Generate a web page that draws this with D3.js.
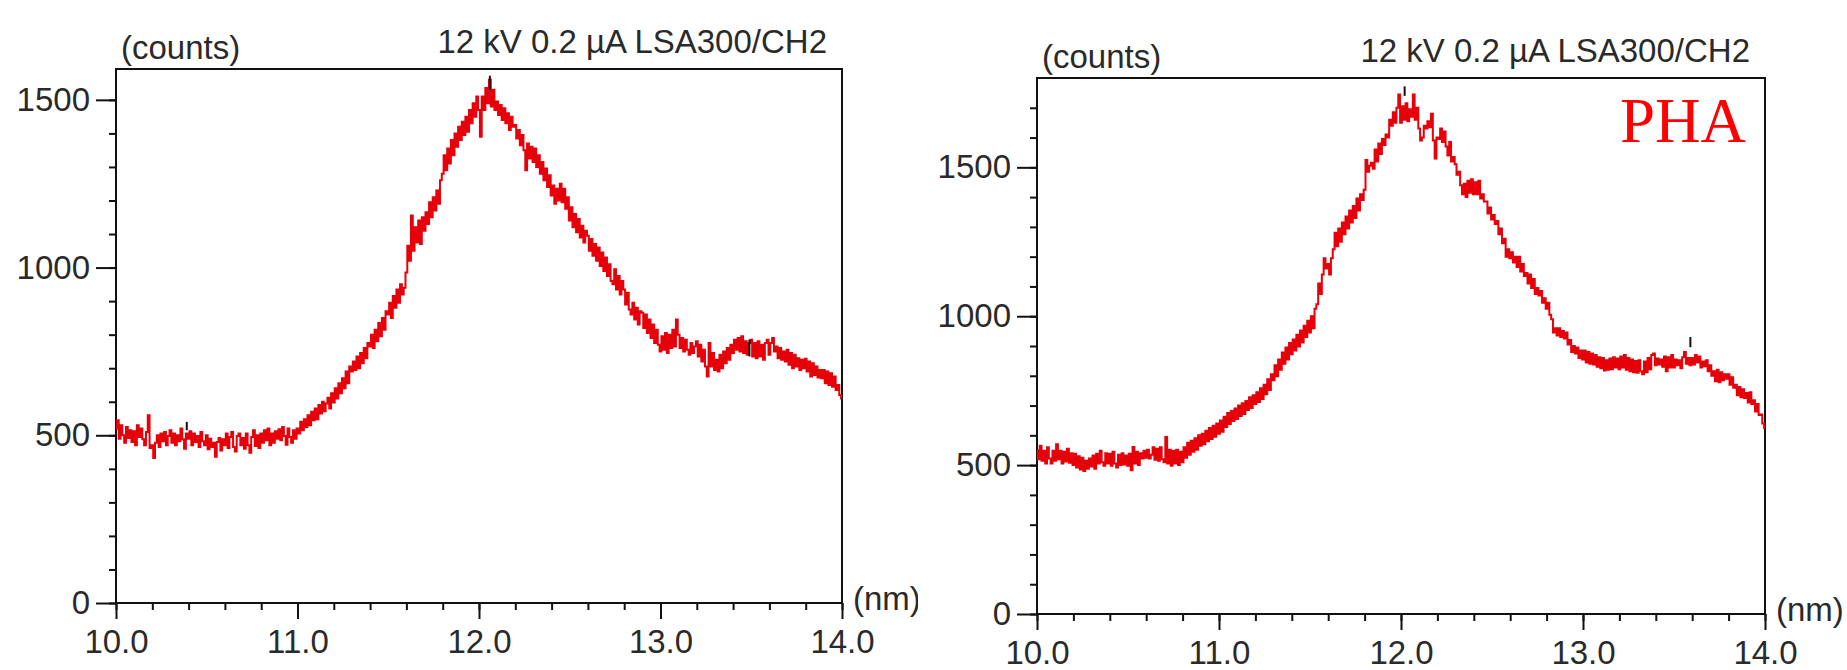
<!DOCTYPE html>
<html>
<head>
<meta charset="utf-8">
<script src="https://cdn.jsdelivr.net/npm/d3@7"></script>
<style>
  body { margin: 0; background: #fff; }
  svg { display: block; font-family: "Liberation Sans", Arial, sans-serif; }
</style>
</head>
<body>
<svg id="chart" width="1847" height="670"></svg>
<script>
// spectra are sampled from 10.00 to 14.00 nm, one value per 0.01 nm
let wlStart = 10.0, wlStep = 0.01
let xTicks = [10.0, 11.0, 12.0, 13.0, 14.0]
let yTicks = [0, 500, 1000, 1500]
let titleText = "12 kV 0.2 µA LSA300/CH2"
let yLabelText = "(counts)"
let xLabelText = "(nm)"
let tagText = "PHA"

// left spectrum (counts)
let countsLeft = [
  520, 545, 490, 530, 500, 478, 525, 492, 515, 480,
  512, 470, 530, 495, 520, 488, 470, 510, 560, 462,
  470, 432, 478, 500, 465, 505, 482, 510, 470, 498,
  515, 478, 505, 470, 500, 482, 520, 488, 460, 505,
  490, 512, 470, 505, 480, 498, 465, 510, 482, 470,
  500, 458, 490, 465, 478, 436, 480, 492, 455, 488,
  470, 505, 462, 495, 510, 465, 452, 498, 505, 470,
  492, 460, 505, 470, 448, 495, 515, 468, 500, 462,
  505, 478, 515, 485, 520, 470, 505, 478, 512, 490,
  518, 485, 525, 498, 472, 520, 495, 478, 515, 490,
  520, 505, 540, 515, 548, 525, 560, 530, 570, 545,
  580, 548, 590, 565, 600, 572, 595, 612, 580, 625,
  598, 640, 610, 655, 625, 670, 640, 690, 655, 705,
  690, 720, 695, 735, 700, 745, 715, 760, 730, 775,
  765, 800, 760, 815, 780, 835, 795, 850, 815, 870,
  860, 895, 850, 915, 880, 935, 895, 950, 920, 940,
  985, 1065, 1020, 1155, 1050, 1120, 1075, 1140, 1070, 1150,
  1110, 1165, 1130, 1195, 1150, 1210, 1170, 1230, 1190, 1260,
  1280, 1335, 1290, 1355, 1310, 1380, 1335, 1400, 1360, 1420,
  1380, 1435, 1395, 1450, 1405, 1470, 1430, 1490, 1450, 1510,
  1470, 1390, 1510, 1470, 1535, 1490, 1560, 1480, 1530, 1470,
  1495, 1455, 1485, 1440, 1475, 1430, 1460, 1410, 1450, 1420,
  1425, 1385, 1410, 1365, 1395, 1350, 1290, 1370, 1325, 1360,
  1315, 1355, 1300, 1335, 1280, 1315, 1260, 1295, 1240, 1275,
  1215, 1245, 1190, 1235, 1200, 1250, 1195, 1235, 1175, 1210,
  1140, 1180, 1120, 1160, 1105, 1145, 1090, 1125, 1075, 1110,
  1095, 1050, 1085, 1035, 1070, 1020, 1060, 1005, 1045, 990,
  1030, 975, 1010, 960, 950, 995, 935, 975, 920, 960,
  935, 890, 925, 875, 860, 895, 845, 880, 830, 870,
  865, 820, 860, 805, 845, 790, 830, 775, 815, 770,
  750, 795, 755, 805, 745, 800, 760, 815, 765, 845,
  800, 760, 790, 750, 785, 755, 740, 775, 745, 765,
  780, 735, 770, 720, 755, 705, 675, 775, 705, 745,
  695, 725, 690, 740, 700, 750, 715, 760, 725, 770,
  745, 785, 755, 790, 750, 795, 745, 780, 740, 775,
  785, 735, 775, 730, 780, 735, 770, 725, 775, 785,
  740, 775, 790, 750, 765, 730, 760, 725, 750, 720,
  755, 710, 745, 700, 740, 705, 730, 695, 725, 700,
  728, 690, 720, 675, 715, 680, 705, 672, 695, 670,
  695, 655, 690, 650, 685, 645, 675, 635, 650, 620,
  610
]

// right spectrum (counts)
let countsRight = [
  550, 520, 565, 515, 548, 505, 560, 522, 505, 548,
  515, 570, 520, 548, 505, 545, 512, 555, 508, 540,
  500, 538, 492, 530, 485, 525, 480, 515, 488, 522,
  495, 532, 488, 538, 505, 548, 510, 498, 540, 505,
  538, 498, 545, 505, 492, 535, 500, 540, 502, 532,
  498, 538, 483, 561, 505, 545, 500, 540, 522, 548,
  525, 552, 522, 535, 560, 518, 555, 515, 560, 520,
  510, 594, 505, 552, 498, 548, 505, 552, 500, 545,
  510, 560, 525, 575, 535, 582, 545, 590, 552, 600,
  565, 605, 570, 615, 580, 625, 588, 632, 595, 640,
  605, 650, 612, 662, 628, 675, 638, 682, 648, 690,
  655, 700, 665, 708, 672, 715, 685, 728, 692, 735,
  705, 745, 712, 758, 722, 770, 738, 788, 752, 805,
  785, 835, 798, 855, 820, 878, 840, 895, 855, 910,
  872, 922, 885, 938, 898, 952, 912, 968, 930, 985,
  945, 1000, 960, 1025, 1040, 1110, 1075, 1140, 1195, 1160,
  1175, 1140, 1195, 1225, 1280, 1235, 1295, 1250, 1315, 1275,
  1335, 1295, 1355, 1315, 1370, 1330, 1395, 1355, 1410, 1390,
  1425, 1525, 1485, 1505, 1515, 1495, 1560, 1520, 1580, 1545,
  1595, 1575, 1610, 1600, 1660, 1640, 1685, 1650, 1700, 1745,
  1650, 1705, 1660, 1715, 1655, 1695, 1670, 1745, 1660, 1700,
  1630, 1590, 1600, 1640, 1630, 1655, 1635, 1680, 1590, 1530,
  1600, 1595, 1630, 1585, 1620, 1570, 1540, 1585, 1520, 1535,
  1510, 1475, 1485, 1440, 1410, 1445, 1400, 1455, 1415, 1460,
  1410, 1450, 1410, 1455, 1395, 1410, 1385, 1385, 1345, 1365,
  1325, 1340, 1310, 1320, 1275, 1295, 1245, 1260, 1200, 1225,
  1195, 1215, 1180, 1200, 1165, 1200, 1150, 1175, 1135, 1145,
  1110, 1140, 1095, 1125, 1075, 1095, 1070, 1085, 1045, 1060,
  1025, 1045, 1005, 990, 945, 960, 935, 960, 930, 950,
  925, 945, 905, 920, 880, 900, 875, 895, 860, 885,
  855, 885, 845, 880, 840, 875, 838, 870, 830, 862,
  825, 860, 818, 852, 820, 858, 822, 862, 828, 858,
  822, 865, 828, 870, 820, 860, 815, 855, 812, 850,
  810, 852, 815, 805, 848, 812, 860, 822, 870, 875,
  835, 858, 838, 855, 830, 865, 815, 862, 828, 870,
  828, 855, 835, 852, 825, 862, 880, 840, 860, 835,
  860, 838, 870, 845, 865, 828, 848, 832, 852, 815,
  835, 800, 815, 782, 820, 778, 812, 785, 805, 790,
  805, 770, 795, 760, 770, 735, 762, 728, 755, 725,
  742, 710, 745, 705, 718, 680, 705, 668, 670, 640,
  625
]

// small black peak markers: position (nm) and the count range they span
let markersLeft = [
  { x: 10.39, lo: 515, hi: 540 },
  { x: 12.06, lo: 1530, hi: 1572 },
  { x: 13.49, lo: 735, hi: 785 }
]
let markersRight = [
  { x: 12.02, lo: 1740, hi: 1772 },
  { x: 13.59, lo: 896, hi: 930 }
]

let svg = d3.select("#chart")
let defs = svg.append("defs")

function drawPanel(p) {
  defs.append("clipPath").attr("id", p.id)
    .append("rect")
    .attr("x", p.clipX).attr("y", 0)
    .attr("width", p.clipW).attr("height", 670)

  let x = d3.scaleLinear().domain([10, 14]).range([p.left, p.right])
  let y = d3.scaleLinear().domain([0, p.yMax]).range([p.bottom, p.top])

  let g = svg.append("g").attr("clip-path", "url(#" + p.id + ")")

  // minor ticks
  g.append("g")
    .attr("transform", "translate(" + p.left + ",0)")
    .call(d3.axisLeft(y).tickValues(d3.range(0, p.yMax, 100)).tickSize(7).tickFormat(""))
  g.append("g")
    .attr("transform", "translate(0," + p.bottom + ")")
    .call(d3.axisBottom(x).tickValues(d3.range(10, 14.01, 0.2)).tickSize(7).tickFormat(""))

  // major ticks + labels
  g.append("g")
    .attr("transform", "translate(" + p.left + ",0)")
    .call(d3.axisLeft(y).tickValues(yTicks).tickSize(20).tickPadding(6).tickFormat(d3.format("d")))
  g.append("g")
    .attr("transform", "translate(0," + p.bottom + ")")
    .call(d3.axisBottom(x).tickValues(xTicks).tickSize(16).tickPadding(11).tickFormat(d3.format(".1f")))

  g.selectAll(".domain").remove()
  g.selectAll(".tick line").attr("stroke", "#111").attr("stroke-width", 2)
  g.selectAll(".tick text")
    .attr("fill", "#2a2a2a")
    .style("font-size", "33px")
    .style("font-family", "'Liberation Sans', Arial, sans-serif")

  // frame
  g.append("rect")
    .attr("x", p.left).attr("y", p.top)
    .attr("width", p.right - p.left).attr("height", p.bottom - p.top)
    .attr("fill", "none")
    .attr("stroke", "#111")
    .attr("stroke-width", 2)

  // spectrum
  let line = d3.line()
    .curve(d3.curveStep)
    .x(function (d, i) { return x(wlStart + i * wlStep) })
    .y(function (d) { return y(d) })

  g.append("path")
    .datum(p.counts)
    .attr("d", line)
    .attr("fill", "none")
    .attr("stroke", "#e6000a")
    .attr("stroke-width", 2)
    .attr("stroke-linejoin", "miter")

  g.selectAll(".marker")
    .data(p.markers)
    .enter().append("line")
    .attr("class", "marker")
    .attr("x1", function (d) { return x(d.x) })
    .attr("x2", function (d) { return x(d.x) })
    .attr("y1", function (d) { return y(d.lo) })
    .attr("y2", function (d) { return y(d.hi) })
    .attr("stroke", "#111")
    .attr("stroke-width", 2)

  // texts
  g.append("text")
    .attr("x", p.left + 5)
    .attr("y", p.top - 10)
    .attr("fill", "#2a2a2a")
    .style("font-size", "33px")
    .text(yLabelText)

  g.append("text")
    .attr("x", p.right - 15)
    .attr("y", p.top - 16)
    .attr("text-anchor", "end")
    .attr("fill", "#2a2a2a")
    .style("font-size", "33px")
    .text(titleText)

  g.append("text")
    .attr("x", p.right + 11)
    .attr("y", p.bottom + 7)
    .attr("fill", "#2a2a2a")
    .style("font-size", "33px")
    .text(xLabelText)

  if (p.tag) {
    g.append("text")
      .attr("x", p.right - 145)
      .attr("y", p.top + 64)
      .attr("fill", "#ff0000")
      .style("font-family", "'Liberation Serif', 'Times New Roman', serif")
      .style("font-size", "63px")
      .text(p.tag)
  }
}

drawPanel({ id: "clipL", clipX: 0, clipW: 918, left: 116, top: 69, right: 842, bottom: 603, yMax: 1592,
  counts: countsLeft, markers: markersLeft })
drawPanel({ id: "clipR", clipX: 920, clipW: 927, left: 1037, top: 78, right: 1765, bottom: 614, yMax: 1800,
  counts: countsRight, markers: markersRight, tag: tagText })
</script>
</body>
</html>
